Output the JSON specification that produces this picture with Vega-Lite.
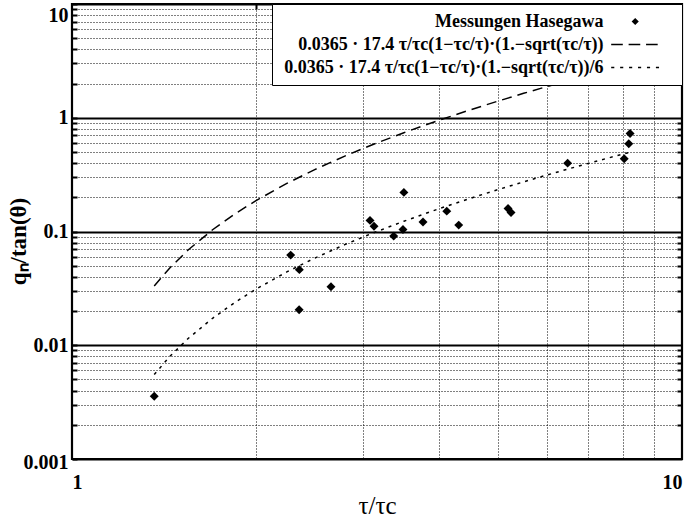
{
  "$schema": "https://vega.github.io/schema/vega-lite/v6.json",
  "width": 610,
  "height": 455,
  "autosize": {"type": "none"},
  "padding": {"left": 72, "top": 4, "right": 14, "bottom": 64},
  "background": "white",
  "config": {
    "view": {"stroke": "black", "strokeWidth": 2.2},
    "font": "Liberation Serif",
    "axis": {"domain": false, "labelFont": "Liberation Serif", "labelFontWeight": "bold", "labelFontSize": 20, "labelColor": "black", "titleColor": "black", "titleFont": "Liberation Serif", "tickColor": "black"}
  },
  "datasets": {
    "pts": [
      {"x": 1.364, "y": 0.00356, "series": "Messungen Hasegawa"},
      {"x": 2.283, "y": 0.062, "series": "Messungen Hasegawa"},
      {"x": 2.359, "y": 0.0462, "series": "Messungen Hasegawa"},
      {"x": 2.357, "y": 0.0205, "series": "Messungen Hasegawa"},
      {"x": 2.658, "y": 0.0327, "series": "Messungen Hasegawa"},
      {"x": 3.08, "y": 0.1252, "series": "Messungen Hasegawa"},
      {"x": 3.127, "y": 0.111, "series": "Messungen Hasegawa"},
      {"x": 3.368, "y": 0.0911, "series": "Messungen Hasegawa"},
      {"x": 3.488, "y": 0.1043, "series": "Messungen Hasegawa"},
      {"x": 3.5, "y": 0.2207, "series": "Messungen Hasegawa"},
      {"x": 3.762, "y": 0.121, "series": "Messungen Hasegawa"},
      {"x": 4.115, "y": 0.151, "series": "Messungen Hasegawa"},
      {"x": 4.305, "y": 0.1138, "series": "Messungen Hasegawa"},
      {"x": 5.186, "y": 0.1596, "series": "Messungen Hasegawa"},
      {"x": 5.245, "y": 0.147, "series": "Messungen Hasegawa"},
      {"x": 6.494, "y": 0.399, "series": "Messungen Hasegawa"},
      {"x": 8.04, "y": 0.436, "series": "Messungen Hasegawa"},
      {"x": 8.18, "y": 0.591, "series": "Messungen Hasegawa"},
      {"x": 8.22, "y": 0.728, "series": "Messungen Hasegawa"}
    ],
    "curves": [
      {"x": 1.364, "y": 0.03324, "series": "full"},
      {"x": 1.45, "y": 0.04845, "series": "full"},
      {"x": 1.55, "y": 0.06874, "series": "full"},
      {"x": 1.7, "y": 0.10359, "series": "full"},
      {"x": 1.85, "y": 0.14295, "series": "full"},
      {"x": 2.0, "y": 0.18602, "series": "full"},
      {"x": 2.25, "y": 0.26463, "series": "full"},
      {"x": 2.5, "y": 0.35012, "series": "full"},
      {"x": 2.8, "y": 0.46, "series": "full"},
      {"x": 3.1, "y": 0.57616, "series": "full"},
      {"x": 3.5, "y": 0.73908, "series": "full"},
      {"x": 4.0, "y": 0.95265, "series": "full"},
      {"x": 4.5, "y": 1.175, "series": "full"},
      {"x": 5.0, "y": 1.4043, "series": "full"},
      {"x": 5.5, "y": 1.6393, "series": "full"},
      {"x": 6.0, "y": 1.8791, "series": "full"},
      {"x": 6.5, "y": 2.1231, "series": "full"},
      {"x": 7.0, "y": 2.3702, "series": "full"},
      {"x": 7.5, "y": 2.6209, "series": "full"},
      {"x": 8.22, "y": 2.9861, "series": "full"},
      {"x": 1.364, "y": 0.00554, "series": "sixth"},
      {"x": 1.45, "y": 0.008074, "series": "sixth"},
      {"x": 1.55, "y": 0.011457, "series": "sixth"},
      {"x": 1.7, "y": 0.017265, "series": "sixth"},
      {"x": 1.85, "y": 0.023825, "series": "sixth"},
      {"x": 2.0, "y": 0.031, "series": "sixth"},
      {"x": 2.25, "y": 0.044104, "series": "sixth"},
      {"x": 2.5, "y": 0.058354, "series": "sixth"},
      {"x": 2.8, "y": 0.07667, "series": "sixth"},
      {"x": 3.1, "y": 0.09603, "series": "sixth"},
      {"x": 3.5, "y": 0.12318, "series": "sixth"},
      {"x": 4.0, "y": 0.15878, "series": "sixth"},
      {"x": 4.5, "y": 0.19584, "series": "sixth"},
      {"x": 5.0, "y": 0.23405, "series": "sixth"},
      {"x": 5.5, "y": 0.27322, "series": "sixth"},
      {"x": 6.0, "y": 0.31319, "series": "sixth"},
      {"x": 6.5, "y": 0.35385, "series": "sixth"},
      {"x": 7.0, "y": 0.39503, "series": "sixth"},
      {"x": 7.5, "y": 0.43682, "series": "sixth"},
      {"x": 8.22, "y": 0.49768, "series": "sixth"}
    ]
  },
  "resolve": {"axis": {"x": "independent", "y": "independent"}},
  "layer": [
    {
      "data": {"name": "curves"},
      "transform": [{"filter": "datum.series == 'full'"}],
      "mark": {"type": "line", "color": "black", "strokeWidth": 1.5, "strokeDash": [10, 6]},
      "encoding": {
        "x": {
          "field": "x", "type": "quantitative",
          "scale": {"type": "log", "domain": [1, 10], "nice": false},
          "axis": {
            "title": "τ/τc",
            "titleFontSize": 25, "titleFontWeight": "normal",
            "titleY": 46, "titleBaseline": "middle",
            "values": [1, 2, 3, 4, 5, 6, 7, 8, 9, 10],
            "format": "~g",
            "labelExpr": "datum.value == 1 || datum.value == 10 ? datum.label : ''",
            "labelPadding": 13,
            "ticks": false,
            "grid": true, "gridColor": "black", "gridOpacity": 1, "gridDash": [1, 2], "gridWidth": 1
          }
        },
        "y": {
          "field": "y", "type": "quantitative",
          "scale": {"type": "log", "domain": [0.001, 10], "nice": false},
          "axis": {
            "title": "qₙ/tan(θ)",
            "titleFontSize": 23, "titleFontWeight": "bold",
            "titleX": -54, "titleY": 237, "titleAngle": -90, "titleBaseline": "middle",
            "values": [0.001, 0.002, 0.003, 0.004, 0.005, 0.006, 0.007, 0.008, 0.009, 0.01, 0.02, 0.03, 0.04, 0.05, 0.06, 0.07, 0.08, 0.09, 0.1, 0.2, 0.3, 0.4, 0.5, 0.6, 0.7, 0.8, 0.9, 1, 2, 3, 4, 5, 6, 7, 8, 9, 10],
            "format": "~g",
            "labelExpr": "abs(log(datum.value)/LN10 - round(log(datum.value)/LN10)) < 1e-6 ? datum.label : ''",
            "labelPadding": 9,
            "labelOffset": {"condition": [{"test": "datum.value > 9.5", "value": 11}, {"test": "datum.value < 0.00105", "value": 3}], "value": 0},
            "ticks": true, "tickSize": -5, "tickWidth": 2,
            "grid": true, "gridColor": "black", "gridOpacity": 1,
            "gridDash": {"condition": {"test": "abs(log(datum.value)/LN10 - round(log(datum.value)/LN10)) < 1e-6", "value": []}, "value": [1, 2]},
            "gridWidth": {"condition": {"test": "abs(log(datum.value)/LN10 - round(log(datum.value)/LN10)) < 1e-6", "value": 2.2}, "value": 1}
          }
        }
      }
    },
    {
      "data": {"name": "curves"},
      "transform": [{"filter": "datum.series == 'sixth'"}],
      "mark": {"type": "line", "color": "black", "strokeWidth": 1.5, "strokeDash": [3, 5]},
      "encoding": {
        "x": {"field": "x", "type": "quantitative", "scale": {"type": "log", "domain": [1, 10], "nice": false}, "axis": null},
        "y": {"field": "y", "type": "quantitative", "scale": {"type": "log", "domain": [0.001, 10], "nice": false}, "axis": null}
      }
    },
    {
      "data": {"name": "pts"},
      "mark": {"type": "point", "filled": true, "color": "black", "opacity": 1, "size": 80, "shape": "diamond"},
      "encoding": {
        "x": {
          "field": "x", "type": "quantitative",
          "scale": {"type": "log", "domain": [1, 10], "nice": false},
          "axis": {"orient": "top", "title": null, "labels": false, "grid": false, "values": [2, 3, 4, 5, 6, 7, 8, 9], "ticks": true, "tickSize": -5, "tickWidth": 2}
        },
        "y": {
          "field": "y", "type": "quantitative",
          "scale": {"type": "log", "domain": [0.001, 10], "nice": false},
          "axis": {"orient": "right", "title": null, "labels": false, "grid": false, "values": [0.002, 0.003, 0.004, 0.005, 0.006, 0.007, 0.008, 0.009, 0.02, 0.03, 0.04, 0.05, 0.06, 0.07, 0.08, 0.09, 0.2, 0.3, 0.4, 0.5, 0.6, 0.7, 0.8, 0.9, 2, 3, 4, 5, 6, 7, 8, 9], "ticks": true, "tickSize": -5, "tickWidth": 2}
        }
      }
    },
    {
      "data": {"name": "pts"},
      "transform": [{"filter": "false"}],
      "mark": {"type": "point", "filled": true, "color": "black", "opacity": 1},
      "encoding": {
        "x": {"field": "x", "type": "quantitative", "scale": {"type": "log", "domain": [1, 10], "nice": false}, "axis": null},
        "y": {"field": "y", "type": "quantitative", "scale": {"type": "log", "domain": [0.001, 10], "nice": false}, "axis": null},
        "shape": {
          "field": "series", "type": "nominal",
          "scale": {
            "domain": ["Messungen Hasegawa", "0.0365 · 17.4  τ/τc(1−τc/τ)·(1.−sqrt(τc/τ))", "0.0365 · 17.4  τ/τc(1−τc/τ)·(1.−sqrt(τc/τ))/6"],
            "range": [
              "M77.3,-0.8L78.1,0L77.3,0.8L76.5,0Z M85.8,0L85.8,0",
              "M71.93,-0.17L74.53,-0.17L74.53,0.17L71.93,0.17Z M75.83,-0.17L78.43,-0.17L78.43,0.17L75.83,0.17Z M79.73,-0.17L82.33,-0.17L82.33,0.17L79.73,0.17Z M85.8,0L85.8,0",
              "M71.93,-0.17L72.63,-0.17L72.63,0.17L71.93,0.17Z M73.93,-0.17L74.63,-0.17L74.63,0.17L73.93,0.17Z M75.93,-0.17L76.63,-0.17L76.63,0.17L75.93,0.17Z M77.93,-0.17L78.63,-0.17L78.63,0.17L77.93,0.17Z M79.93,-0.17L80.63,-0.17L80.63,0.17L79.93,0.17Z M81.93,-0.17L82.63,-0.17L82.63,0.17L81.93,0.17Z M85.8,0L85.8,0"
            ]
          },
          "legend": {
            "title": null,
            "orient": "top-right",
            "offset": 0,
            "strokeColor": "black",
            "fillColor": "white",
            "padding": 8.5,
            "labelFont": "Liberation Serif",
            "labelFontWeight": "bold",
            "labelFontSize": 18,
            "labelColor": "black",
            "labelAlign": "right",
            "labelOffset": 305,
            "labelLimit": 600,
            "symbolSize": 80,
            "rowPadding": 5,
            "symbolStrokeWidth": 0,
            "symbolFillColor": "black",
            "symbolOpacity": 1
          }
        }
      }
    }
  ]
}
